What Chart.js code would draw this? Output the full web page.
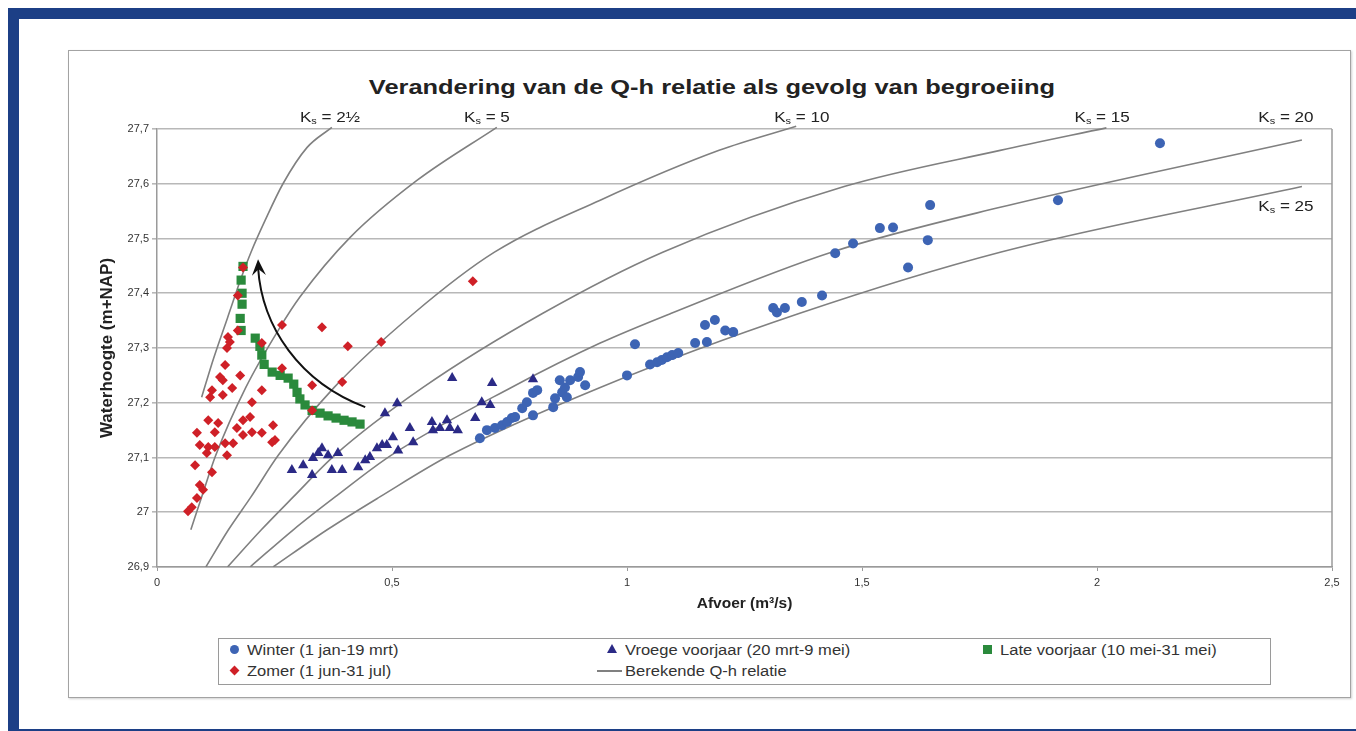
<!DOCTYPE html>
<html>
<head>
<meta charset="utf-8">
<script src="https://cdn.jsdelivr.net/npm/chart.js@4.4.0/dist/chart.umd.min.js"></script>
<style>
  body { margin: 0; background: #fff; font-family: "Liberation Sans", Arial, sans-serif; }
  .band { position: absolute; background: #1c3f86; }
  #box { position: absolute; left: 68px; top: 50px; width: 1281px; height: 646px; border: 1px solid #a3a3a3; box-shadow: 1px 1px 2px #d0d0d0; }
  #wrap { position: absolute; left: 0; top: 0; width: 1356px; height: 731px; }
  #title { position: absolute; left: 212px; width: 1000px; top: 75px; text-align: center; font-weight: bold; font-size: 21px; color: #222; transform: scaleX(1.21); }
  #legend { position: absolute; left: 218px; top: 638px; width: 1051px; height: 45px; border: 1px solid #9a9a9a; background: #fff; }
  .item { position: absolute; font-size: 14px; color: #333; line-height: 16px; white-space: nowrap; transform: scaleX(1.18); transform-origin: left center; }
  .mk { position: absolute; }
</style>
</head>
<body>
<div class="band" style="left:8px;top:8px;width:1348px;height:11px"></div>
<div class="band" style="left:8px;top:8px;width:11px;height:723px"></div>
<div class="band" style="left:8px;top:729px;width:1348px;height:2px"></div>
<div id="box"></div>
<div id="title">Verandering van de Q-h relatie als gevolg van begroeiing</div>
<div id="legend">
  <span class="mk" style="left:11px;top:6px;width:9px;height:9px;border-radius:50%;background:#3d64b4"></span>
  <span class="item" style="left:28px;top:3px">Winter (1 jan-19 mrt)</span>
  <span class="mk" style="left:12px;top:28px;width:7px;height:7px;background:#cf2027;transform:rotate(45deg)"></span>
  <span class="item" style="left:28px;top:24px">Zomer (1 jun-31 jul)</span>
  <span class="mk" style="left:388px;top:5px;width:0;height:0;border-left:5px solid transparent;border-right:5px solid transparent;border-bottom:9px solid #2b2a86"></span>
  <span class="item" style="left:406px;top:3px">Vroege voorjaar (20 mrt-9 mei)</span>
  <span class="mk" style="left:378px;top:31px;width:25px;height:2px;background:#808080"></span>
  <span class="item" style="left:406px;top:24px">Berekende Q-h relatie</span>
  <span class="mk" style="left:764px;top:6px;width:9px;height:9px;background:#2a8a3c"></span>
  <span class="item" style="left:781px;top:3px">Late voorjaar (10 mei-31 mei)</span>
</div>
<div id="wrap"><canvas id="qh" width="1356" height="731"></canvas></div>
<script>
// tick labels
const xTickLabels = ['0', '0,5', '1', '1,5', '2', '2,5'];
const yTickLabels = ['26,9', '27', '27,1', '27,2', '27,3', '27,4', '27,5', '27,6', '27,7'];

// measured points: afvoer (Q) and waterhoogte (h)
const winterQ = [0.687, 0.702, 0.719, 0.734, 0.745, 0.755, 0.762, 0.777, 0.787, 0.800, 0.809, 0.800, 0.843, 0.847, 0.862, 0.868, 0.857, 0.879, 0.896, 0.900, 0.911, 0.872, 1.000, 1.017, 1.049, 1.064, 1.074, 1.085, 1.096, 1.109, 1.145, 1.170, 1.166, 1.187, 1.209, 1.226, 1.311, 1.319, 1.336, 1.372, 1.415, 1.443, 1.481, 1.538, 1.566, 1.598, 1.640, 1.645, 1.917, 2.134];
const winterH = [27.135, 27.150, 27.154, 27.159, 27.165, 27.172, 27.174, 27.190, 27.201, 27.218, 27.223, 27.177, 27.192, 27.208, 27.219, 27.228, 27.241, 27.241, 27.247, 27.256, 27.232, 27.210, 27.250, 27.307, 27.270, 27.274, 27.278, 27.283, 27.287, 27.291, 27.309, 27.311, 27.342, 27.351, 27.332, 27.329, 27.373, 27.365, 27.373, 27.384, 27.396, 27.473, 27.491, 27.519, 27.520, 27.447, 27.497, 27.561, 27.570, 27.674];

const vroegQ = [0.287, 0.311, 0.330, 0.332, 0.343, 0.351, 0.364, 0.385, 0.372, 0.394, 0.428, 0.443, 0.453, 0.468, 0.479, 0.489, 0.502, 0.513, 0.485, 0.511, 0.538, 0.545, 0.585, 0.587, 0.602, 0.617, 0.623, 0.640, 0.628, 0.713, 0.800, 0.691, 0.709, 0.677];
const vroegH = [27.077, 27.086, 27.068, 27.099, 27.108, 27.117, 27.104, 27.108, 27.077, 27.077, 27.082, 27.095, 27.101, 27.117, 27.123, 27.123, 27.137, 27.113, 27.181, 27.199, 27.154, 27.128, 27.165, 27.150, 27.154, 27.168, 27.154, 27.150, 27.245, 27.236, 27.243, 27.201, 27.196, 27.172];

const laatQ = [0.183, 0.179, 0.181, 0.181, 0.177, 0.179, 0.209, 0.219, 0.223, 0.228, 0.245, 0.262, 0.279, 0.291, 0.298, 0.304, 0.315, 0.330, 0.347, 0.364, 0.381, 0.398, 0.415, 0.432];
const laatH = [27.449, 27.424, 27.400, 27.380, 27.354, 27.332, 27.318, 27.303, 27.287, 27.270, 27.256, 27.250, 27.245, 27.234, 27.219, 27.207, 27.196, 27.186, 27.181, 27.176, 27.172, 27.168, 27.165, 27.161];

const zomerQ = [0.183, 0.172, 0.172, 0.151, 0.155, 0.149, 0.145, 0.134, 0.140, 0.177, 0.160, 0.117, 0.113, 0.140, 0.223, 0.202, 0.223, 0.266, 0.266, 0.109, 0.130, 0.183, 0.198, 0.085, 0.123, 0.170, 0.183, 0.202, 0.223, 0.247, 0.245, 0.091, 0.109, 0.123, 0.145, 0.162, 0.106, 0.149, 0.081, 0.117, 0.091, 0.098, 0.085, 0.074, 0.066, 0.351, 0.406, 0.477, 0.672, 0.330, 0.394, 0.330, 0.251];
const zomerH = [27.447, 27.396, 27.332, 27.320, 27.311, 27.300, 27.269, 27.247, 27.241, 27.250, 27.227, 27.223, 27.210, 27.214, 27.223, 27.201, 27.309, 27.342, 27.263, 27.168, 27.163, 27.168, 27.174, 27.145, 27.146, 27.154, 27.141, 27.146, 27.145, 27.159, 27.128, 27.123, 27.119, 27.119, 27.126, 27.126, 27.108, 27.104, 27.086, 27.073, 27.050, 27.041, 27.026, 27.009, 27.002, 27.338, 27.303, 27.311, 27.422, 27.232, 27.238, 27.186, 27.132];

// berekende Q-h relaties
const ks = ['2½', '5', '10', '15', '20', '25'];
const curveQ = [
  [0.095, 0.120, 0.150, 0.180, 0.200, 0.230, 0.268, 0.319, 0.372],
  [0.072, 0.095, 0.125, 0.189, 0.262, 0.304, 0.411, 0.553, 0.723],
  [0.104, 0.152, 0.200, 0.258, 0.377, 0.546, 0.718, 0.943, 1.196, 1.360],
  [0.150, 0.222, 0.290, 0.378, 0.566, 0.820, 1.076, 1.462, 1.794, 2.020],
  [0.198, 0.290, 0.379, 0.498, 0.754, 0.943, 1.093, 1.435, 1.794, 2.436],
  [0.247, 0.362, 0.474, 0.623, 0.943, 1.366, 1.794, 2.436]
];
const curveH = [
  [27.210, 27.280, 27.355, 27.430, 27.475, 27.533, 27.600, 27.666, 27.703],
  [26.968, 27.028, 27.104, 27.228, 27.338, 27.393, 27.502, 27.606, 27.703],
  [26.900, 26.968, 27.028, 27.104, 27.228, 27.363, 27.475, 27.570, 27.661, 27.705],
  [26.900, 26.968, 27.028, 27.104, 27.228, 27.363, 27.475, 27.595, 27.661, 27.702],
  [26.900, 26.968, 27.028, 27.104, 27.228, 27.309, 27.363, 27.475, 27.557, 27.680],
  [26.900, 26.968, 27.028, 27.104, 27.228, 27.363, 27.475, 27.595]
];

// where the Ks labels sit (Q, h) and the arrow path
const ksLabelAt = [[0.368, 27.719], [0.702, 27.719], [1.372, 27.719], [2.011, 27.719], [2.402, 27.719], [2.402, 27.557]];
const arrowPath = [[0.443, 27.192], [0.304, 27.237], [0.223, 27.338], [0.215, 27.462]];

function pts(qs, hs) {
  return qs.map((q, i) => ({ x: q, y: hs[i] }));
}

const datasets = [
  { label: 'Zomer (1 jun-31 jul)', data: pts(zomerQ, zomerH), pointStyle: 'rectRot', pointRadius: 5, backgroundColor: '#cf2027', borderColor: '#cf2027', borderWidth: 0 },
  { label: 'Late voorjaar (10 mei-31 mei)', data: pts(laatQ, laatH), pointStyle: 'rect', pointRadius: 6.5, backgroundColor: '#2a8a3c', borderColor: '#2a8a3c', borderWidth: 0 },
  { label: 'Vroege voorjaar (20 mrt-9 mei)', data: pts(vroegQ, vroegH), pointStyle: 'triangle', pointRadius: 6, backgroundColor: '#2b2a86', borderColor: '#2b2a86', borderWidth: 0 },
  { label: 'Winter (1 jan-19 mrt)', data: pts(winterQ, winterH), pointStyle: 'circle', pointRadius: 5, backgroundColor: '#3d64b4', borderColor: '#3d64b4', borderWidth: 0 }
];
curveQ.forEach((qs, i) => {
  datasets.push({
    label: 'Ks = ' + ks[i],
    data: pts(qs, curveH[i]),
    showLine: true,
    pointRadius: 0,
    borderColor: '#808080',
    borderWidth: 1.6,
    cubicInterpolationMode: 'monotone',
    clip: { left: 0, top: 10, right: 0, bottom: 0 }
  });
});

// Ks labels, arrow and plot border
const extras = {
  id: 'extras',
  afterDatasetsDraw(chart) {
    const { ctx, chartArea, scales } = chart;
    const xs = scales.x, ys = scales.y;
    ctx.save();
    ctx.strokeStyle = '#9a9a9a';
    ctx.lineWidth = 1.5;
    ctx.beginPath();
    ctx.moveTo(chartArea.right, chartArea.top);
    ctx.lineTo(chartArea.right, chartArea.bottom);
    ctx.stroke();

    // arrow
    const p = arrowPath.map(a => [xs.getPixelForValue(a[0]), ys.getPixelForValue(a[1])]);
    ctx.strokeStyle = '#111';
    ctx.fillStyle = '#111';
    ctx.lineWidth = 2;
    ctx.beginPath();
    ctx.moveTo(p[0][0], p[0][1]);
    ctx.bezierCurveTo(p[1][0], p[1][1], p[2][0], p[2][1], p[3][0], p[3][1] + 8);
    ctx.stroke();
    const dx = p[3][0] - p[2][0], dy = p[3][1] - p[2][1];
    const len = Math.hypot(dx, dy);
    const ux = dx / len, uy = dy / len;
    const bx = p[3][0] - ux * 16, by = p[3][1] - uy * 16;
    ctx.beginPath();
    ctx.moveTo(p[3][0], p[3][1]);
    ctx.lineTo(bx - uy * 7, by + ux * 7);
    ctx.lineTo(p[3][0] - ux * 10, p[3][1] - uy * 10);
    ctx.lineTo(bx + uy * 7, by - ux * 7);
    ctx.closePath();
    ctx.fill();

    // Ks labels with subscript s, a bit wide like the original
    ctx.fillStyle = '#222';
    ctx.textBaseline = 'middle';
    const big = '14px "Liberation Sans", Arial, sans-serif';
    const small = '9px "Liberation Sans", Arial, sans-serif';
    ks.forEach((k, i) => {
      const cx = xs.getPixelForValue(ksLabelAt[i][0]);
      const cy = ys.getPixelForValue(ksLabelAt[i][1]);
      const rest = ' = ' + k;
      ctx.font = big;
      const wK = ctx.measureText('K').width;
      const wR = ctx.measureText(rest).width;
      ctx.font = small;
      const wS = ctx.measureText('s').width;
      ctx.save();
      ctx.translate(cx, cy);
      ctx.scale(1.22, 1);
      const x0 = -(wK + wS + wR) / 2;
      ctx.font = big;
      ctx.fillText('K', x0, 0);
      ctx.font = small;
      ctx.fillText('s', x0 + wK, 3);
      ctx.font = big;
      ctx.fillText(rest, x0 + wK + wS, 0);
      ctx.restore();
    });
    ctx.restore();
  }
};

new Chart(document.getElementById('qh'), {
  type: 'scatter',
  data: { datasets: datasets },
  options: {
    responsive: false,
    animation: false,
    events: [],
    layout: { padding: { left: 95, right: 24, top: 129, bottom: 114 } },
    plugins: {
      legend: { display: false },
      tooltip: { enabled: false },
      title: { display: false }
    },
    scales: {
      x: {
        type: 'linear',
        min: 0,
        max: 2.5,
        afterFit: s => { s.height = 50; },
        ticks: {
          stepSize: 0.5,
          padding: 5,
          color: '#333',
          font: { family: '"Liberation Sans", Arial, sans-serif', size: 11 },
          callback: v => xTickLabels[Math.round(v * 2)]
        },
        grid: { drawOnChartArea: false, drawTicks: true, tickLength: 4, color: '#9a9a9a' },
        border: { display: true, color: '#9a9a9a', width: 1.5 },
        title: {
          display: true,
          text: 'Afvoer (m³/s)',
          color: '#222',
          font: { family: '"Liberation Sans", Arial, sans-serif', size: 15.5, weight: 'bold' }
        }
      },
      y: {
        type: 'linear',
        min: 26.9,
        max: 27.7,
        afterFit: s => { s.width = 62; },
        ticks: {
          stepSize: 0.1,
          padding: 3,
          color: '#333',
          font: { family: '"Liberation Sans", Arial, sans-serif', size: 11 },
          callback: v => yTickLabels[Math.round((v - 26.9) * 10)]
        },
        grid: { color: '#b8b8b8', lineWidth: 1.6, tickLength: 5 },
        border: { display: true, color: '#9a9a9a', width: 1.5 },
        title: {
          display: true,
          text: 'Waterhoogte (m+NAP)',
          color: '#222',
          padding: { top: 2, bottom: 4 },
          font: { family: '"Liberation Sans", Arial, sans-serif', size: 17, weight: 'bold' }
        }
      }
    }
  },
  plugins: [extras]
});
</script>
</body>
</html>
